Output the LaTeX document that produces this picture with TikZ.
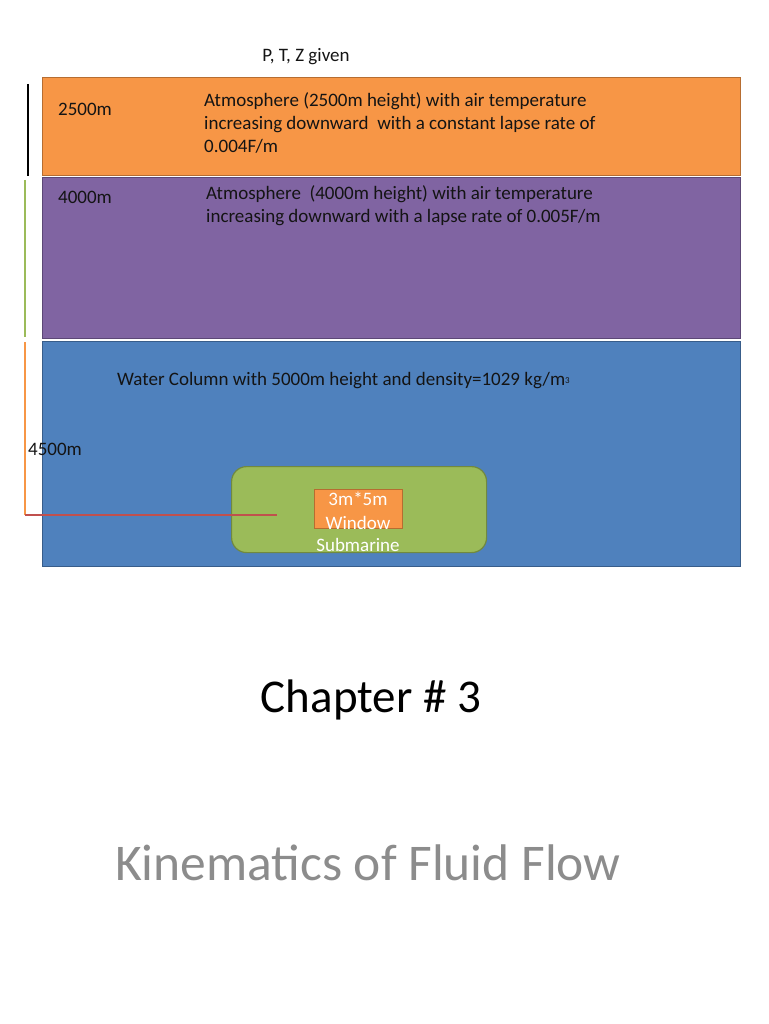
\documentclass[tikz,border=0pt]{standalone}
\usepackage{fontspec}
\setmainfont{Carlito}
\usepackage{xcolor}
\usetikzlibrary{positioning}
\definecolor{layorange}{RGB}{247, 150, 70}
\definecolor{layorangeb}{RGB}{182, 109, 49}
\definecolor{laypurple}{RGB}{128, 100, 162}
\definecolor{laypurpleb}{RGB}{92, 71, 118}
\definecolor{layblue}{RGB}{79, 129, 189}
\definecolor{laybluee}{RGB}{56, 93, 138}
\definecolor{laygreen}{RGB}{155, 187, 89}
\definecolor{laygreenb}{RGB}{113, 137, 63}
\definecolor{markred}{RGB}{192, 80, 77}
\definecolor{titlegray}{RGB}{140, 140, 140}

\begin{document}
\begin{tikzpicture}[
  x=1pt, y=-1pt,
  layer/.style={minimum width=698pt, inner sep=0pt, anchor=north west, line width=1.2pt},
  txt/.style={inner sep=0pt, font=\fontsize{19}{23}\selectfont, text=black!92},
  lbl/.style={txt, anchor=west},
  dim/.style={line width=1.8pt}
]
\useasboundingbox (0,0) rectangle (768,1024);

% layers
\node[layer, fill=layorange, draw=layorangeb, minimum height=98pt] (air1) at (42,77) {};
\node[layer, fill=laypurple, draw=laypurpleb, minimum height=161pt] (air2) at (42,177) {};
\node[layer, fill=layblue, draw=laybluee, minimum height=225pt] (water) at (42,341) {};

\node[txt] (given) at (306,57) {P, T, Z given};

\node[lbl] (h1) at (58,109) {2500m};
\node[lbl] (h2) at (58,197) {4000m};
\node[lbl] (h3) at (28,449) {4500m};

\node[txt, anchor=north west, align=left] (desc1) at (204,92)
  {Atmosphere (2500m height) with air temperature\\increasing downward\ \ with a constant lapse rate of\\0.004F/m};
\node[txt, anchor=north west, align=left] (desc2) at (206,185)
  {Atmosphere\ \ (4000m height) with air temperature\\increasing downward with a lapse rate of 0.005F/m};
\node[lbl] (desc3) at (117,381) {Water Column with 5000m height and density=1029 kg/m\raisebox{0.3ex}{\fontsize{9}{9}\selectfont 3}};

% submarine
\node[fill=laygreen, draw=laygreenb, line width=1.2pt, rounded corners=15pt,
      minimum width=255pt, minimum height=86pt, anchor=north west] (sub) at (231,466) {};
\node[fill=layorange, draw=layorangeb, line width=1.2pt,
      minimum width=88pt, minimum height=39pt, anchor=north west] (win) at (314,489) {};
\node[txt, text=white, align=center, font=\fontsize{19}{24}\selectfont] (wintxt) at (358,511) {3m*5m\\Window};
\node[txt, text=white] (subtxt) at (358,545) {Submarine};

% depth marks
\coordinate (d1a) at (28,84);
\coordinate (d1b) at (28,176);
\coordinate (d2a) at (25,180);
\coordinate (d2b) at (25,337);
\coordinate (d3a) at (25,342);
\coordinate (d3b) at (25,515);
\coordinate (d3c) at (277,515);
\draw[dim, black] (d1a) -- (d1b);
\draw[dim, laygreen] (d2a) -- (d2b);
\draw[line width=1.2pt, layorange] (d3a) -- (d3b);
\draw[line width=1.2pt, markred] (d3b) -- (d3c);

% titles
\node[inner sep=0pt, font=\fontsize{47}{50}\selectfont] (chap) at (371,700) {Chapter \# 3};
\node[inner sep=0pt, font=\fontsize{51.5}{54}\selectfont, text=titlegray] (kin) at (368,863) {Kinematics of Fluid Flow};
\end{tikzpicture}
\end{document}
